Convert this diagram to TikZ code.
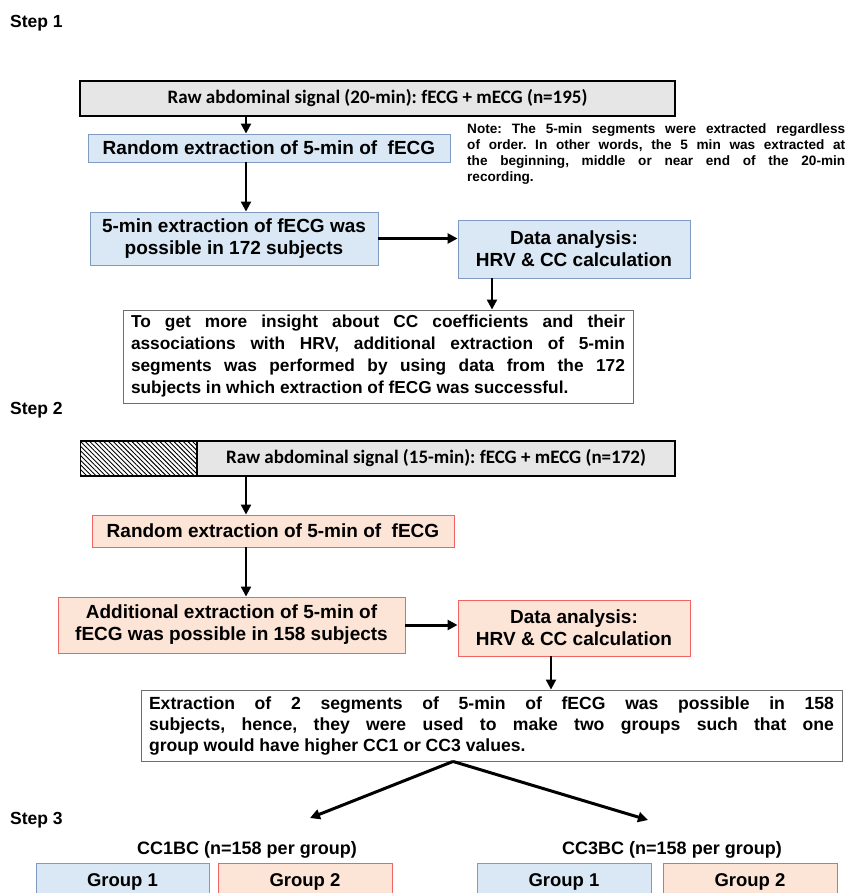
\documentclass[tikz,border=0pt]{standalone}
\usepackage{fontspec}
\setmainfont{Liberation Sans}
\newfontfamily\calfont{Carlito}
\usetikzlibrary{arrows.meta,positioning,patterns.meta}
\frenchspacing

\definecolor{bluefill}{HTML}{DAE8F5}
\definecolor{blueline}{HTML}{7F9BC2}
\definecolor{pinkfill}{HTML}{FCE4D6}
\definecolor{pinkline}{HTML}{F06464}
\definecolor{grayfill}{HTML}{E6E6E6}
\definecolor{noteline}{HTML}{6E6E6E}

\tikzset{
  stepname/.style={anchor=west, inner sep=0pt, font=\fontsize{17.5}{20}\selectfont\bfseries},
  rawbox/.style={draw=black, line width=1.8pt, fill=grayfill, minimum height=35pt,
    font=\calfont\fontsize{19}{22}\selectfont\bfseries},
  hatchbox/.style={draw=black, line width=1.8pt, fill=white, minimum height=35pt,
    pattern={Lines[angle=-45,distance=3.3pt,line width=0.9pt]}},
  bluebox/.style={draw=blueline, fill=bluefill, line width=0.9pt, align=center,
    font=\fontsize{19}{22}\selectfont\bfseries},
  pinkbox/.style={bluebox, draw=pinkline, fill=pinkfill},
  textbox/.style={draw=noteline, line width=0.9pt, fill=white, align=justify,
    inner xsep=8pt, font=\fontsize{17.3}{22}\selectfont\bfseries},
  groupname/.style={font=\fontsize{18}{20}\selectfont\bfseries},
  groupbox/.style={font=\fontsize{18.5}{20}\selectfont\bfseries, minimum width=174pt,
    minimum height=36pt, anchor=north},
  arr/.style={-{Triangle[length=10pt,width=10pt]}, line width=2.2pt},
}

\begin{document}
\begin{tikzpicture}[x=1pt,y=-1pt]
\clip (0,0) rectangle (845,893);

% step 1
\node[stepname] (step1) at (10,23) {Step 1};
\node[rawbox, minimum width=595pt] (raw1) at (377.5,98.5) {Raw abdominal signal (20-min): fECG + mECG (n=195)};
\node[bluebox, minimum width=362pt, minimum height=28pt] (rand1) at (269,148) {Random extraction of 5-min of\ \ fECG};
\node[anchor=north west, inner sep=0pt, text width=378pt, align=justify,
  font=\fontsize{13.6}{16}\selectfont\bfseries] (note) at (467,123)
  {Note: The 5-min segments were extracted regardless\linebreak of order. In other words, the 5 min was extracted at\linebreak the beginning, middle or near end of the 20-min\linebreak recording.};
\node[bluebox, minimum width=288pt, minimum height=53pt] (ext1) at (234,238.5) {5-min extraction of fECG was\\possible in 172 subjects};
\node[bluebox, minimum width=232pt, minimum height=58pt] (data1) at (574,249) {Data analysis:\\HRV \& CC calculation};
\node[textbox, text width=494pt, minimum height=93pt] (info1) at (378,356.5)
  {To get more insight about CC coefficients and their\linebreak associations with HRV, additional extraction of 5-min\linebreak segments was performed by using data from the 172\linebreak subjects in which extraction of fECG was successful.};

\coordinate (colA) at (246,0);
\coordinate (colB) at (492,0);
\draw[arr] (raw1.south -| colA) -- (rand1.north -| colA);
\draw[arr] (rand1.south -| colA) -- (ext1.north -| colA);
\draw[arr, line width=3pt] (ext1.east) -- (ext1.east -| data1.west);
\draw[arr] (data1.south -| colB) -- (info1.north -| colB);

% step 2
\node[stepname] (step2) at (10,410) {Step 2};
\node[rawbox, minimum width=478pt] (raw2) at (436,458.5) {Raw abdominal signal (15-min): fECG + mECG (n=172)};
\node[hatchbox, minimum width=117pt, left=-1.8pt of raw2] (hatch2) {};
\node[pinkbox, minimum width=362pt, minimum height=32pt] (rand2) at (273,531) {Random extraction of 5-min of\ \ fECG};
\node[pinkbox, minimum width=347pt, minimum height=56pt] (ext2) at (231.5,625) {Additional extraction of 5-min of\\fECG was possible in 158 subjects};
\node[pinkbox, minimum width=232pt, minimum height=56pt] (data2) at (574,628) {Data analysis:\\HRV \& CC calculation};
\node[textbox, text width=685pt, minimum height=71pt, font=\fontsize{17.6}{21}\selectfont\bfseries] (info2) at (491.5,725.5)
  {Extraction of 2 segments of 5-min of fECG was possible in 158\linebreak subjects, hence, they were used to make two groups such that one\linebreak group would have higher CC1 or CC3 values.};

\coordinate (colC) at (551,0);
\draw[arr] (raw2.south -| colA) -- (rand2.north -| colA);
\draw[arr] (rand2.south -| colA) -- (ext2.north -| colA);
\draw[arr, line width=3pt] (ext2.east) -- (ext2.east -| data2.west);
\draw[arr] (data2.south -| colC) -- (info2.north -| colC);

% step 3
\coordinate (colD) at (453,0);
\coordinate (tip1) at (310,818);
\coordinate (tip3) at (648,820);
\draw[arr, line width=3pt] (info2.south -| colD) -- (tip1);
\draw[arr, line width=3pt] (info2.south -| colD) -- (tip3);

\node[stepname] (step3) at (10,820) {Step 3};
\node[groupname] (cc1) at (247,850) {CC1BC (n=158 per group)};
\node[groupname] (cc3) at (672,850) {CC3BC (n=158 per group)};
\node[bluebox, groupbox, minimum width=173pt] (g11) at (122.5,863) {Group 1};
\node[pinkbox, groupbox] (g12) at (305,863) {Group 2};
\node[bluebox, groupbox] (g31) at (564,863) {Group 1};
\node[pinkbox, groupbox] (g32) at (750,863) {Group 2};

\end{tikzpicture}
\end{document}
